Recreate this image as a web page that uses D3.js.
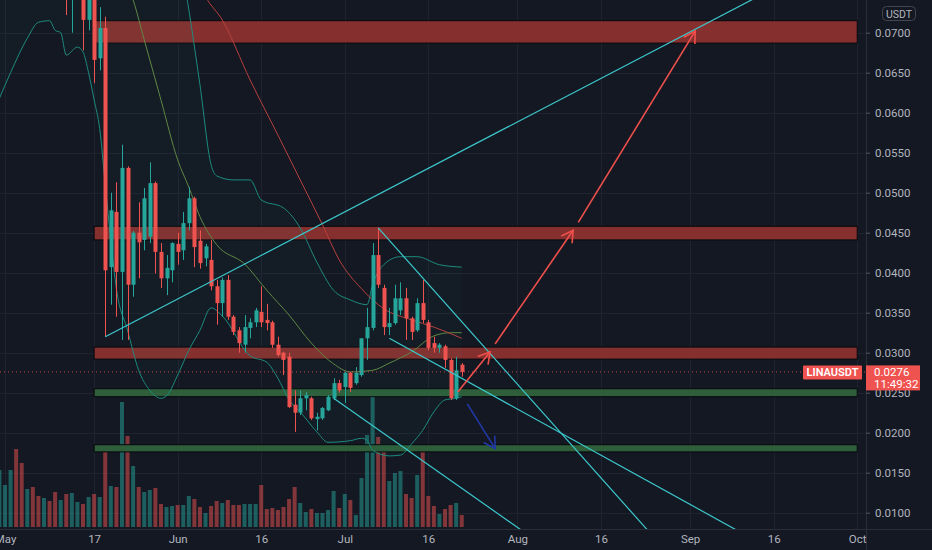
<!DOCTYPE html>
<html>
<head>
<meta charset="utf-8">
<script src="https://cdn.jsdelivr.net/npm/d3@7"></script>
<style>
  body { margin: 0; background: #141823; overflow: hidden; }
  text { font-family: Roboto, "Liberation Sans", sans-serif; }
</style>
</head>
<body>
<div id="chart"></div>
<script>
// LINAUSDT daily candles, first candle 2021-04-30
const firstDay = "2021-04-30";
const opens  = [.0800,.0840,.0880,.0930,.0850,.0810,.0850,.0820,.0800,.0830,.0805,.0775,.0810,.0765,.0790,.0805,.0716,.0765,.0668,.0706,.0407,.0476,.0401,.0531,.0385,.0450,.0441,.0445,.0512,.0426,.0393,.0403,.0436,.0428,.0462,.0493,.0440,.0418,.0416,.0383,.0362,.0391,.0345,.0328,.0310,.0331,.0338,.0351,.0341,.0338,.0310,.0300,.0295,.0235,.0225,.0243,.0243,.0217,.0218,.0228,.0243,.0262,.0257,.0275,.0262,.0272,.0318,.0331,.0422,.0381,.0332,.0337,.0353,.0368,.0343,.0328,.0362,.0338,.0312,.0306,.0308,.0291,.0243,.0285];
const highs  = [.0860,.0900,.0960,.0980,.0880,.0870,.0880,.0840,.0850,.0845,.0820,.0830,.0830,.0820,.0830,.0820,.0790,.0780,.0732,.0720,.0500,.0513,.0560,.0533,.0452,.0488,.0506,.0538,.0514,.0437,.0422,.0438,.0450,.0476,.0507,.0495,.0453,.0436,.0441,.0391,.0394,.0397,.0347,.0332,.0347,.0343,.0356,.0383,.0361,.0340,.0320,.0301,.0300,.0253,.0253,.0251,.0245,.0225,.0232,.0247,.0268,.0266,.0276,.0276,.0282,.0318,.0356,.0437,.0456,.0385,.0356,.0385,.0388,.0381,.0345,.0368,.0391,.0341,.0320,.0312,.0310,.0293,.0295,.0287];
const lows   = [.0780,.0810,.0850,.0820,.0790,.0790,.0800,.0780,.0785,.0790,.0760,.0765,.0722,.0700,.0760,.0678,.0703,.0637,.0653,.0320,.0360,.0345,.0316,.0316,.0370,.0393,.0428,.0437,.0399,.0381,.0372,.0388,.0410,.0416,.0453,.0407,.0405,.0408,.0378,.0335,.0345,.0341,.0322,.0300,.0300,.0318,.0332,.0332,.0328,.0306,.0295,.0272,.0231,.0201,.0222,.0228,.0216,.0203,.0216,.0227,.0241,.0250,.0237,.0251,.0260,.0270,.0291,.0328,.0381,.0322,.0322,.0335,.0347,.0316,.0316,.0326,.0337,.0303,.0300,.0300,.0281,.0241,.0241,.0270];
const closes = [.0840,.0880,.0930,.0850,.0810,.0850,.0820,.0800,.0830,.0805,.0775,.0810,.0765,.0790,.0805,.0716,.0765,.0666,.0706,.0403,.0478,.0401,.0531,.0385,.0450,.0438,.0493,.0512,.0426,.0393,.0406,.0437,.0426,.0462,.0493,.0432,.0412,.0433,.0383,.0362,.0391,.0345,.0326,.0312,.0332,.0338,.0353,.0338,.0337,.0310,.0297,.0291,.0232,.0225,.0243,.0247,.0218,.0220,.0231,.0245,.0262,.0253,.0275,.0256,.0275,.0318,.0332,.0422,.0385,.0332,.0337,.0368,.0368,.0343,.0326,.0362,.0341,.0306,.0306,.0310,.0291,.0243,.0278,.0276];
const volumes = [57,42,57,78,64,38,40,31,29,26,35,27,33,34,25,23,30,33,30,75,41,40,125,91,61,40,35,37,39,23,20,21,22,22,31,28,20,14,21,26,24,27,22,22,23,23,23,42,18,19,17,20,28,40,24,15,18,14,14,17,36,19,33,27,12,49,92,131,90,75,46,54,56,33,29,52,82,31,21,13,18,22,24,12];

// indicator lines: [day, value]
const slowMA = [["2021-06-04",.0775],["2021-06-06",.0745],["2021-06-09",.0716],["2021-06-14",.0641],["2021-06-19",.0572],["2021-06-23",.0516],["2021-06-27",.0460],["2021-06-30",.0416],["2021-07-04",.0380],["2021-07-08",.0355],["2021-07-13",.0341],["2021-07-17",.0332],["2021-07-22",.0318]];
const midMA = [["2021-05-23",.0760],["2021-05-24",.0741],["2021-05-26",.0691],["2021-05-29",.0616],["2021-06-01",.0541],["2021-06-03",.0507],["2021-06-05",.0470],["2021-06-08",.0435],["2021-06-13",.0411],["2021-06-17",.0378],["2021-06-21",.0347],["2021-06-25",.0312],["2021-06-29",.0286],["2021-07-02",.0276],["2021-07-06",.0278],["2021-07-09",.0287],["2021-07-13",.0301],["2021-07-17",.0321],["2021-07-20",.0325],["2021-07-22",.0325]];
const bbUpper = [["2021-04-30",.105],["2021-05-11",.105],["2021-05-21",.100],["2021-05-29",.088],["2021-06-02",.0770],["2021-06-05",.0635],["2021-06-07",.0535],["2021-06-08",.0521],["2021-06-11",.0516],["2021-06-14",.0516],["2021-06-16",.0491],["2021-06-20",.0481],["2021-06-23",.0456],["2021-06-26",.0413],["2021-06-29",.0378],["2021-07-02",.0366],["2021-07-05",.0360],["2021-07-06",.0385],["2021-07-08",.0410],["2021-07-11",.0420],["2021-07-14",.0420],["2021-07-18",.0410],["2021-07-22",.0407]];
const bbLower = [["2021-04-30",.0618],["2021-05-02",.0650],["2021-05-05",.0693],["2021-05-07",.0713],["2021-05-09",.0715],["2021-05-10",.0703],["2021-05-11",.0700],["2021-05-12",.0672],["2021-05-14",.0682],["2021-05-15",.0676],["2021-05-16",.0650],["2021-05-17",.0616],["2021-05-18",.0580],["2021-05-19",.0510],["2021-05-20",.0440],["2021-05-21",.0380],["2021-05-23",.0328],["2021-05-25",.0278],["2021-05-27",.0253],["2021-05-29",.0243],["2021-05-30",.0246],["2021-06-01",.0272],["2021-06-03",.0303],["2021-06-05",.0328],["2021-06-07",.0356],["2021-06-09",.0346],["2021-06-14",.0296],["2021-06-17",.0288],["2021-06-19",.0268],["2021-06-21",.0241],["2021-06-23",.0226],["2021-06-26",.0201],["2021-06-28",.0188],["2021-07-02",.0190],["2021-07-04",.0193],["2021-07-05",.0191],["2021-07-06",.0178],["2021-07-09",.0171],["2021-07-11",.0172],["2021-07-13",.0186],["2021-07-15",.0203],["2021-07-17",.0226],["2021-07-19",.0241],["2021-07-21",.0243],["2021-07-22",.0245]];

// drawn zones [from, to, top, bottom]
const resistanceZones = [["2021-05-17","2021-10-01",.0715,.0687],["2021-05-17","2021-10-01",.0458,.0441],["2021-05-17","2021-10-01",.0307,.0292]];
const supportZones = [["2021-05-17","2021-10-01",.0255,.0245],["2021-05-17","2021-10-01",.0185,.0176]];
// trend lines [[day, price],[day, price]]
const trendLines = [
  [["2021-05-19",.0320],["2021-09-17",.0759]],
  [["2021-07-07",.0456],["2021-08-29",.0042]],
  [["2021-07-09",.0318],["2021-09-18",.0045]],
  [["2021-06-29",.0243],["2021-08-04",.0067]]
];
const upArrows = [
  [["2021-07-21T07:00",.0251],["2021-07-27T02:00",.0301]],
  [["2021-07-28T00:00",.0311],["2021-08-11T00:00",.0453]],
  [["2021-08-11T22:00",.0463],["2021-09-01T22:00",.0702]]
];
const downArrows = [[["2021-07-23T00:00",.0236],["2021-07-28T00:00",.0180]]];

const lastPrice = 0.0276;
const priceTicks = [0.0100,0.0150,0.0200,0.0250,0.0300,0.0350,0.0400,0.0450,0.0500,0.0550,0.0600,0.0650,0.0700];
const dateTicks = ["2021-05-01","2021-05-17","2021-06-01","2021-06-16","2021-07-01","2021-07-16","2021-08-01","2021-08-16","2021-09-01","2021-09-16","2021-10-01"];
const dateTickLabels = ["May","17","Jun","16","Jul","16","Aug","16","Sep","16","Oct"];

const width = 932, height = 550;
const paneW = 866, paneH = 529;
const up = "#26a69a", down = "#ef5350";

const parseDay = s => new Date(s.length > 10 ? s + ":00Z" : s + "T00:00:00Z");

const x = d3.scaleUtc()
    .domain([parseDay("2021-05-01"), parseDay("2021-10-01")])
    .range([5, 857.2]);
const y = d3.scaleLinear()
    .domain([0.01, 0.07])
    .range([512.7, 32.7]);
const vy = d3.scaleLinear()
    .domain([0, d3.max(volumes)])
    .range([527, 396]);

const start = parseDay(firstDay);
const candles = opens.map((o, i) => ({
    date: d3.utcDay.offset(start, i),
    o, h: highs[i], l: lows[i], c: closes[i], v: volumes[i]
}));

const svg = d3.select("#chart").append("svg")
    .attr("width", width)
    .attr("height", height);

svg.append("rect").attr("width", width).attr("height", height).attr("fill", "#141823");

svg.append("defs").append("clipPath").attr("id", "pane")
    .append("rect").attr("width", paneW).attr("height", paneH);

// grid
const grid = svg.append("g").attr("stroke", "#1f2330").attr("stroke-width", 1);
grid.selectAll("line.h").data(priceTicks).join("line")
    .attr("x1", 0).attr("x2", paneW)
    .attr("y1", d => Math.round(y(d)) + 0.5).attr("y2", d => Math.round(y(d)) + 0.5);
grid.selectAll("line.v").data(dateTicks).join("line")
    .attr("y1", 0).attr("y2", paneH)
    .attr("x1", d => Math.round(x(parseDay(d))) + 0.5).attr("x2", d => Math.round(x(parseDay(d))) + 0.5);

const pane = svg.append("g").attr("clip-path", "url(#pane)");

// volume
const bw = 4;
pane.append("g").selectAll("rect").data(candles).join("rect")
    .attr("x", d => x(d.date) - bw / 2)
    .attr("width", bw)
    .attr("y", d => vy(d.v))
    .attr("height", d => vy(0) - vy(d.v))
    .attr("fill", d => d.c >= d.o ? up : down)
    .attr("opacity", 0.5);

// zones
function zones(list, fill) {
    pane.append("g").selectAll("rect").data(list).join("rect")
        .attr("x", d => x(parseDay(d[0])))
        .attr("width", d => x(parseDay(d[1])) - x(parseDay(d[0])))
        .attr("y", d => y(d[2]))
        .attr("height", d => y(d[3]) - y(d[2]))
        .attr("fill", fill)
        .attr("stroke", "#07080c")
        .attr("stroke-width", 1);
}
zones(resistanceZones, "#85302f");
zones(supportZones, "#2e5e3a");

// bollinger fill + lines
const bandLine = d3.line().x(d => x(parseDay(d[0]))).y(d => y(d[1])).curve(d3.curveMonotoneX);
const upperPts = bbUpper.map(d => [parseDay(d[0]), d[1]]);
const lowerPts = bbLower.map(d => [parseDay(d[0]), d[1]]);
const bandArea = d3.area()
    .x(d => x(d.date))
    .y0(d => y(d.lo))
    .y1(d => y(d.hi))
    .curve(d3.curveMonotoneX);
const interp = (pts, t) => {
    const i = d3.bisector(p => p[0]).left(pts, t);
    if (i <= 0) return pts[0][1];
    if (i >= pts.length) return pts[pts.length - 1][1];
    const a = pts[i - 1], b = pts[i];
    return a[1] + (b[1] - a[1]) * (t - a[0]) / (b[0] - a[0]);
};
const bandDays = candles.map(d => ({ date: d.date, hi: interp(upperPts, d.date), lo: interp(lowerPts, d.date) }));
pane.append("path").datum(bandDays).attr("d", bandArea).attr("fill", "#26a69a").attr("opacity", 0.035);
pane.append("path").datum(bbUpper).attr("d", bandLine).attr("fill", "none").attr("stroke", "#1d8b7e").attr("stroke-width", 1);
pane.append("path").datum(bbLower).attr("d", bandLine).attr("fill", "none").attr("stroke", "#1d8b7e").attr("stroke-width", 1);
pane.append("path").datum(midMA).attr("d", bandLine).attr("fill", "none").attr("stroke", "#5f8744").attr("stroke-width", 1);
pane.append("path").datum(slowMA).attr("d", bandLine).attr("fill", "none").attr("stroke", "#b8403d").attr("stroke-width", 1);

// candles
const cg = pane.append("g");
cg.selectAll("line").data(candles).join("line")
    .attr("x1", d => Math.round(x(d.date)) + 0.5).attr("x2", d => Math.round(x(d.date)) + 0.5)
    .attr("y1", d => y(d.h)).attr("y2", d => y(d.l))
    .attr("stroke", d => d.c >= d.o ? up : down);
cg.selectAll("rect").data(candles).join("rect")
    .attr("x", d => Math.round(x(d.date)) + 0.5 - bw / 2)
    .attr("width", bw)
    .attr("y", d => y(Math.max(d.o, d.c)))
    .attr("height", d => Math.max(1, Math.abs(y(d.o) - y(d.c))))
    .attr("fill", d => d.c >= d.o ? up : down);

// trend lines
pane.append("g").selectAll("line").data(trendLines).join("line")
    .attr("x1", d => x(parseDay(d[0][0]))).attr("y1", d => y(d[0][1]))
    .attr("x2", d => x(parseDay(d[1][0]))).attr("y2", d => y(d[1][1]))
    .attr("stroke", "#3cc8cc").attr("stroke-width", 1.2);

// arrows
function arrows(list, color) {
    const g = pane.append("g").attr("stroke", color).attr("stroke-width", 1.6).attr("fill", "none");
    list.forEach(a => {
        const x1 = x(parseDay(a[0][0])), y1 = y(a[0][1]);
        const x2 = x(parseDay(a[1][0])), y2 = y(a[1][1]);
        g.append("line").attr("x1", x1).attr("y1", y1).attr("x2", x2).attr("y2", y2);
        const ang = Math.atan2(y2 - y1, x2 - x1), len = 13, spread = Math.PI / 6;
        g.append("path").attr("d",
            `M${x2 - len * Math.cos(ang - spread)},${y2 - len * Math.sin(ang - spread)}L${x2},${y2}L${x2 - len * Math.cos(ang + spread)},${y2 - len * Math.sin(ang + spread)}`);
    });
}
arrows(upArrows, "#f0504b");
arrows(downArrows, "#2138a6");

// last price line
pane.append("line")
    .attr("x1", 0).attr("x2", paneW)
    .attr("y1", y(lastPrice)).attr("y2", y(lastPrice))
    .attr("stroke", down).attr("stroke-dasharray", "1,3").attr("opacity", 0.8);

// axes frame
svg.append("line").attr("x1", paneW + 0.5).attr("x2", paneW + 0.5).attr("y1", 0).attr("y2", height).attr("stroke", "#2a2e39");
svg.append("line").attr("x1", 0).attr("x2", width).attr("y1", paneH + 0.5).attr("y2", paneH + 0.5).attr("stroke", "#2a2e39");

// price axis
const yAxis = svg.append("g")
    .attr("transform", `translate(${paneW},0)`)
    .call(d3.axisRight(y).tickValues(priceTicks).tickFormat(d3.format(".4f")).tickSize(4).tickPadding(5));
yAxis.select(".domain").remove();
yAxis.selectAll("line").attr("stroke", "#50535e");
yAxis.selectAll("text").attr("fill", "#b2b5be").attr("font-size", 11.5).style("font-family", "Roboto, sans-serif");

// date axis
const xAxis = svg.append("g")
    .attr("transform", `translate(0,${paneH})`)
    .call(d3.axisBottom(x).tickValues(dateTicks.map(parseDay))
        .tickFormat((d, i) => dateTickLabels[i]).tickSize(0).tickPadding(6));
xAxis.select(".domain").remove();
xAxis.selectAll("text").attr("fill", "#b2b5be").attr("font-size", 11.5).style("font-family", "Roboto, sans-serif");

// currency badge
svg.append("rect").attr("x", 882.5).attr("y", 6.5).attr("width", 33).attr("height", 14).attr("rx", 4)
    .attr("fill", "#141823").attr("stroke", "#434651");
svg.append("text").attr("x", 899).attr("y", 17.5).attr("text-anchor", "middle")
    .attr("fill", "#b2b5be").attr("font-size", 10.5).text("USDT");

// last price labels
const ly = y(lastPrice);
svg.append("rect").attr("x", 803).attr("y", ly - 6.5).attr("width", 59).attr("height", 14).attr("rx", 1).attr("fill", down);
svg.append("text").attr("x", 832.5).attr("y", ly + 4.5).attr("text-anchor", "middle")
    .attr("fill", "#fff").attr("font-size", 11).attr("font-weight", 600).text("LINAUSDT");
svg.append("rect").attr("x", paneW).attr("y", ly - 6.5).attr("width", 54).attr("height", 25).attr("fill", down);
svg.append("text").attr("x", 874).attr("y", ly + 4.5)
    .attr("fill", "#fff").attr("font-size", 11.5).text(d3.format(".4f")(lastPrice));
svg.append("text").attr("x", 874).attr("y", ly + 16.5)
    .attr("fill", "#fff").attr("font-size", 11.5).text("11:49:32");
</script>
</body>
</html>
